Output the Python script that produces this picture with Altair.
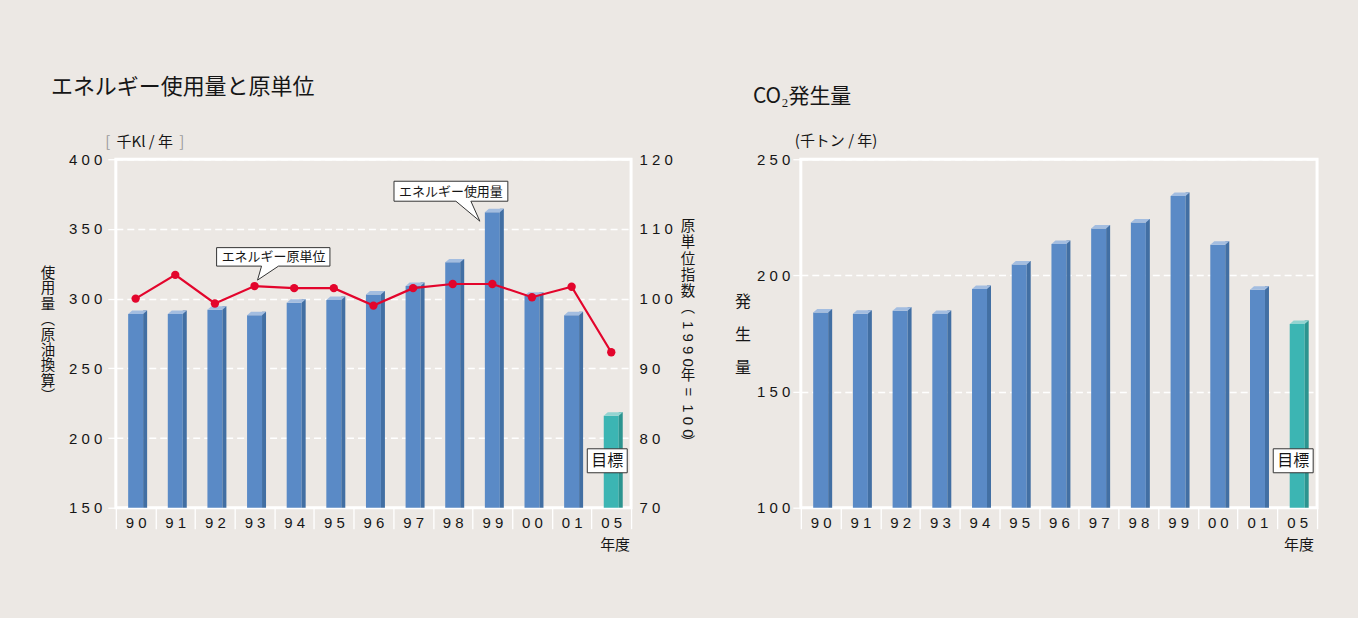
import altair as alt
import pandas as pd

# ---- data -------------------------------------------------------------
years = ["90", "91", "92", "93", "94", "95", "96", "97", "98", "99", "00", "01", "05"]
energy_kl = [289, 289, 292, 288, 297, 299, 303, 309, 326, 362, 302, 288, 216]          # 千Kl / 年
intensity_index = [100.0, 103.4, 99.3, 101.8, 101.5, 101.5, 99.0, 101.5, 102.1, 102.1, 100.2, 101.7, 92.3]
co2_kt = [184.0, 183.5, 184.8, 183.4, 194.1, 204.7, 213.5, 220.2, 222.8, 234.2, 213.2, 193.8, 179.1]  # 千トン / 年
kind = ["actual"] * 12 + ["target"]

energy_ticks = [150, 200, 250, 300, 350, 400]
index_ticks = [70, 80, 90, 100, 110, 120]
co2_ticks = [100, 150, 200, 250]

df = pd.DataFrame({"year": years, "energy": energy_kl, "index": intensity_index,
                   "co2": co2_kt, "kind": kind})

# ---- styling ----------------------------------------------------------
W_L, W_R, H = 516, 517, 349
JP = "Noto Sans CJK JP"
NUM = "Liberation Sans"
INK = "#161616"
BG = "#ECE8E4"
RED = "#E3052C"
FRONT = ("#5A8AC6", "#3CB5B3")
SIDE = ("#426FA3", "#2C948F")
TOP = ("#A3BDE0", "#93D4D1")
SPACED = "join(split(datum.label, ''), ' ')"

# bar cap (parallelogram) and callout outlines, in pixel units (size=4 -> 1 unit = 1 px)
CAP = "M-7.5,0 L-3.5,-3.5 L11.5,-3.5 L7.5,0 Z"
CALLOUT_INDEX = "M3,-6 L7,-20 L-38,-20 L-38,-38.5 L75.5,-38.5 L75.5,-20 L24,-20 Z"
CALLOUT_ENERGY = "M-12.5,9 L-21.5,-11 L15.5,-11 L15.5,-31 L-98.5,-31 L-98.5,-11 L-36.5,-11 Z"
BOX = "M-24,-12 L16,-12 L16,12 L-24,12 Z"


def pick(colors):
    return alt.condition("datum.kind == 'target'", alt.value(colors[1]), alt.value(colors[0]))


x_enc = alt.X(
    "year:N", sort=years,
    scale=alt.Scale(domain=years, paddingInner=0, paddingOuter=0),
    axis=alt.Axis(title=None, labelAngle=0, labelFont=NUM, labelFontSize=15, labelColor=INK,
                  labelExpr=SPACED, tickBand="extent", tickColor="white", tickSize=21,
                  tickWidth=1.3, labelPadding=-13, domain=False, grid=False),
)


def value_axis(ticks, pad, orient="left", grid=True, tick=True):
    kw = dict(title=None, values=ticks, orient=orient, labelFont=NUM, labelFontSize=15,
              labelColor=INK, labelExpr=SPACED, labelPadding=pad, domain=False, grid=grid)
    if grid:
        kw.update(gridColor="white", gridDash=[7, 4], gridWidth=1.5)
    if tick:
        kw.update(ticks=True, tickColor="white", tickSize=8, tickWidth=1.3)
    else:
        kw.update(ticks=False, tickSize=0)
    return alt.Axis(**kw)


def bars3d(field, y_enc, base):
    front = alt.Chart(df).mark_bar(width=15).encode(
        x=x_enc, y=y_enc, y2=alt.datum(base), color=pick(FRONT))
    side = alt.Chart(df).mark_bar(width=4, xOffset=9.5, yOffset=-3.5).encode(
        x=x_enc, y=y_enc, y2=alt.datum(base), color=pick(SIDE))
    cap = alt.Chart(df).mark_point(shape=CAP, size=4, filled=True, opacity=1, strokeWidth=0).encode(
        x=x_enc, y=y_enc, color=pick(TOP))
    return [front, side, cap]


def target_tag():
    box = alt.Chart(df).transform_filter("datum.kind == 'target'").mark_point(
        shape=BOX, size=4, fill="white", stroke="#333333", strokeWidth=1, opacity=1,
        fillOpacity=1).encode(x=x_enc, y=alt.value(302))
    txt = alt.Chart(df).transform_filter("datum.kind == 'target'").mark_text(
        text="目標", font=JP, fontSize=16, color=INK, dx=-4, baseline="middle").encode(
        x=x_enc, y=alt.value(302))
    return [box, txt]


def label(text, x, y, size=15, align="center", angle=0, color=INK, line_height=None, font=JP):
    # for multi-line text, y is the centre of the first line
    mk = dict(text=text, font=font, fontSize=size, align=align, baseline="middle", color=color)
    if angle:
        mk["angle"] = angle
    if line_height:
        mk["lineHeight"] = line_height
    return alt.Chart(alt.Data(values=[{}])).mark_text(**mk).encode(x=alt.value(x), y=alt.value(y))


# ---- left panel: energy use (bars) and intensity index (line) ---------
y_energy = alt.Y("energy:Q", scale=alt.Scale(domain=[150, 400], zero=False, nice=False),
                 axis=value_axis(energy_ticks, 6))
y_index = alt.Y("index:Q", scale=alt.Scale(domain=[70, 120], zero=False, nice=False),
                axis=value_axis(index_ticks, 8, orient="right", grid=False, tick=False))

energy_callout = alt.Chart(df).transform_filter("datum.year == '99'")
left_bars = alt.layer(
    *bars3d("energy", y_energy, 150),
    energy_callout.mark_point(shape=CALLOUT_ENERGY, size=4, fill="white", stroke="#333333",
                              strokeWidth=1, opacity=1, fillOpacity=1).encode(x=x_enc, y=y_energy),
    energy_callout.mark_text(text="エネルギー使用量", font=JP, fontSize=13, color=INK,
                             dx=-41.5, dy=-20.7, baseline="middle").encode(x=x_enc, y=y_energy),
    *target_tag(),
)

index_callout = alt.Chart(df).transform_filter("datum.year == '93'")
left_line = alt.layer(
    alt.Chart(df).mark_line(color=RED, strokeWidth=2.2).encode(x=x_enc, y=y_index),
    alt.Chart(df).mark_point(filled=True, color=RED, size=70, opacity=1).encode(x=x_enc, y=y_index),
    index_callout.mark_point(shape=CALLOUT_INDEX, size=4, fill="white", stroke="#333333",
                             strokeWidth=1, opacity=1, fillOpacity=1).encode(x=x_enc, y=y_index),
    index_callout.mark_text(text="エネルギー原単位", font=JP, fontSize=13, color=INK,
                            dx=19, dy=-29.2, baseline="middle").encode(x=x_enc, y=y_index),
)

left_texts = [
    label("エネルギー使用量と原単位", -65, -72, size=22, align="left"),
    label("[", -8, -17.5, color="#9a9a9a"),
    label("千Kl / 年", 29, -17.5),
    label("]", 66, -17.5, color="#9a9a9a"),
    label(["使", "用", "量", "︵", "原", "油", "換", "算", "︶"], -68, 115, size=14.5,
          line_height=15.4),
    label(["原", "単", "位", "指", "数", "︵"], 573, 68, size=14.5, line_height=16.3),
    label("1 9 9 0", 573, 185, angle=90, font=NUM),
    label("年", 573, 217, size=14.5),
    label("=", 573, 233, angle=90, font=NUM),
    label("1 0 0", 573, 262, angle=90, font=NUM),
    label("︶", 573, 285, size=14.5),
    label("年度", 500, 386),
]

left = alt.layer(left_bars, left_line, *left_texts).resolve_scale(y="independent").properties(
    width=W_L, height=H)

# ---- right panel: CO2 emissions --------------------------------------
y_co2 = alt.Y("co2:Q", scale=alt.Scale(domain=[100, 250], zero=False, nice=False),
              axis=value_axis(co2_ticks, 3))

right_texts = [
    label("CO₂発生量", -48, -62, size=21, align="left"),
    label("(千トン / 年)", -6, -18.3, align="left"),
    label(["発", "生", "量"], -58, 142.7, size=16, line_height=33),
    label("年度", 499, 386),
]

right = alt.layer(*bars3d("co2", y_co2, 100), *target_tag(), *right_texts).properties(
    width=W_R, height=H)

chart = alt.hconcat(left, right, spacing=170, bounds="flush").properties(
    padding={"left": 39, "top": 74, "right": 38, "bottom": 64}
).configure(background=BG).configure_view(stroke="white", strokeWidth=3)

chart.save("out.html", embed_options={"renderer": "svg", "actions": False})
